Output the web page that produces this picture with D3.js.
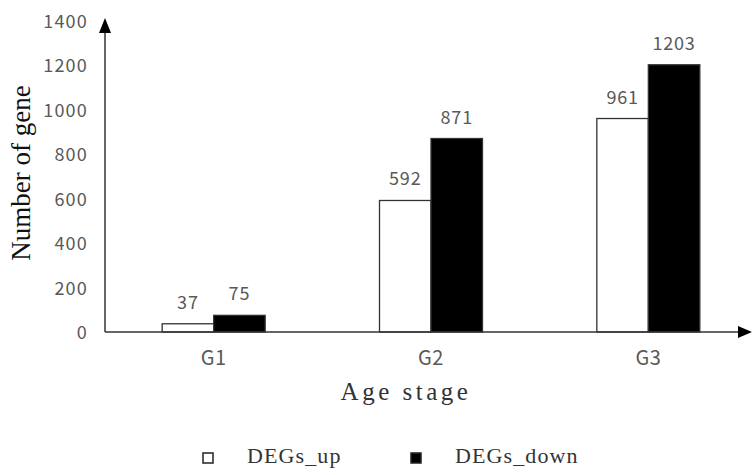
<!DOCTYPE html>
<html><head><meta charset="utf-8">
<script src="https://cdn.jsdelivr.net/npm/d3@7"></script>
<style>body{margin:0;background:#fff}</style>
</head><body>
<svg id="c" width="752" height="475"></svg>
<script>
const categories = ["G1", "G2", "G3"];
const seriesNames = ["DEGs_up", "DEGs_down"];
const upValues = [37, 592, 961];
const downValues = [75, 871, 1203];
const yTicks = [0, 200, 400, 600, 800, 1000, 1200, 1400];

const svg = d3.select("#c");
const x0 = 105, yBase = 332;
const x = d3.scaleBand().domain(categories).range([105, 757]).padding(0);
const y = d3.scaleLinear().domain([0, 1400]).range([yBase, 21]);
const barW = 51.5;
const fills = ["#fff", "#000"];
const gray = "#595959";
const sans = "Noto Sans CJK SC, Noto Sans, sans-serif";
const serif = "Liberation Serif, Times New Roman, serif";

// bars
const data = [];
categories.forEach((c, i) => {
  [upValues[i], downValues[i]].forEach((v, j) => data.push({c, v, j}));
});
svg.selectAll("rect.bar").data(data).enter().append("rect")
  .attr("x", d => x(d.c) + x.bandwidth()/2 + (d.j === 0 ? -barW : 0))
  .attr("y", d => y(d.v))
  .attr("width", barW)
  .attr("height", d => yBase - y(d.v))
  .attr("fill", d => fills[d.j])
  .attr("stroke", "#333").attr("stroke-width", 1.3);

svg.selectAll("text.val").data(data).enter().append("text")
  .attr("x", d => x(d.c) + x.bandwidth()/2 + (d.j === 0 ? -barW/2 : barW/2))
  .attr("y", d => y(d.v) - 15)
  .attr("text-anchor", "middle")
  .attr("font-family", sans)
  .attr("font-size", 18).attr("letter-spacing", 0.8).attr("fill", gray)
  .text(d => d.v);

// axes lines
svg.append("line").attr("x1", x0).attr("x2", 744).attr("y1", yBase).attr("y2", yBase)
  .attr("stroke", "#333").attr("stroke-width", 1.5);
svg.append("path").attr("d", `M752,${yBase} L738,${yBase-6} L738,${yBase+6} Z`).attr("fill", "#000");
svg.append("line").attr("x1", x0).attr("x2", x0).attr("y1", yBase).attr("y2", 28)
  .attr("stroke", "#333").attr("stroke-width", 1.5);
svg.append("path").attr("d", `M${x0},18 L${x0-6},33 L${x0+6},33 Z`).attr("fill", "#000");

// y tick labels
svg.selectAll("text.yt").data(yTicks).enter().append("text")
  .attr("x", 88).attr("y", d => y(d) + 7)
  .attr("text-anchor", "end")
  .attr("font-family", sans)
  .attr("font-size", 18).attr("letter-spacing", 1.2).attr("fill", gray)
  .text(d => d);

// x tick labels
svg.selectAll("text.xt").data(categories).enter().append("text")
  .attr("x", d => x(d) + x.bandwidth()/2).attr("y", 365)
  .attr("text-anchor", "middle")
  .attr("font-family", sans)
  .attr("font-size", 20).attr("letter-spacing", 0.5).attr("fill", gray)
  .text(d => d);

// axis titles
svg.append("text").attr("transform", "translate(30,173) rotate(-90)")
  .attr("text-anchor", "middle")
  .attr("font-family", serif)
  .attr("font-size", 27).attr("fill", "#111")
  .text("Number of gene");

svg.append("text").attr("x", 406).attr("y", 400)
  .attr("text-anchor", "middle")
  .attr("font-family", serif)
  .attr("font-size", 25).attr("letter-spacing", 3.5).attr("fill", "#333")
  .text("Age stage");

// legend
const legX = [203, 411];
const legTX = [247, 455];
seriesNames.forEach((s, i) => {
  svg.append("rect").attr("x", legX[i]).attr("y", 453).attr("width", 10).attr("height", 10)
    .attr("fill", fills[i]).attr("stroke", "#222").attr("stroke-width", 1.5);
  svg.append("text").attr("x", legTX[i]).attr("y", 463)
    .attr("font-family", serif)
    .attr("font-size", 22).attr("letter-spacing", 1.1).attr("fill", "#333")
    .text(s);
});
</script>
</body></html>
